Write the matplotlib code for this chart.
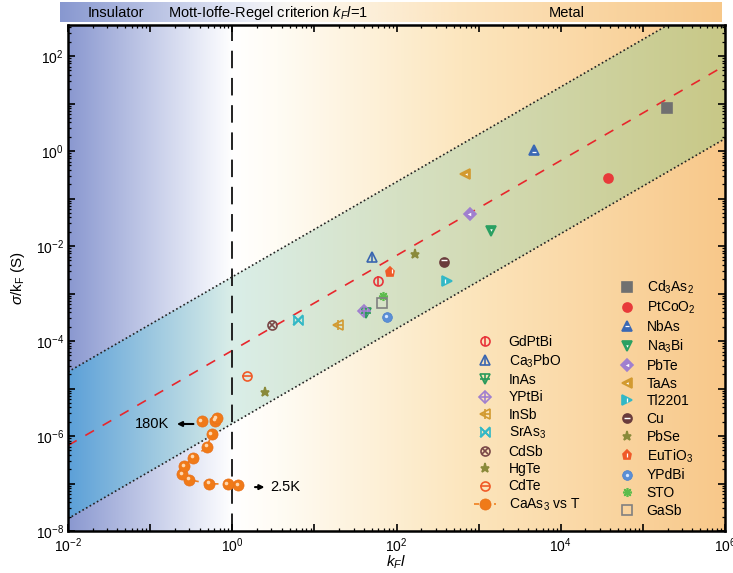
import numpy as np
import matplotlib
matplotlib.use('Agg')
import matplotlib.pyplot as plt
import matplotlib.transforms as mtransforms
from matplotlib.patches import Polygon
from matplotlib.path import Path
from matplotlib.lines import Line2D
from matplotlib.ticker import LogLocator, FuncFormatter, NullFormatter

plt.rcParams['font.family'] = ['Liberation Sans', 'DejaVu Sans']
plt.rcParams['mathtext.fontset'] = 'custom'
plt.rcParams['mathtext.rm'] = 'Liberation Sans'
plt.rcParams['mathtext.it'] = 'Liberation Sans:italic'
plt.rcParams['mathtext.bf'] = 'Liberation Sans:bold'

# ---- data (kF*l, sigma/kF) ----
gdptbi = (60, 1.8e-3)
ca3pbo = (50, 6.0e-3)
inas = (43, 3.9e-4)
yptbi = (40, 4.2e-4)
insb = (19.6, 2.2e-4)
sras3 = (6.25, 2.75e-4)
cdsb = (3.05, 2.2e-4)
hgte = (2.52, 8.3e-6)
cdte = (1.52, 1.83e-5)

cd3as2 = (1.98e5, 7.9)
ptcoo2 = (3.78e4, 0.274)
nbas = (4.7e3, 1.05)
na3bi = (1.4e3, 0.0207)
pbte = (790, 0.047)
taas = (680, 0.33)
tl2201 = (407, 1.83e-3)
cu = (374, 4.7e-3)
pbse = (170, 6.7e-3)
eutio3 = (84, 2.9e-3)
ypdbi = (77, 3.2e-4)
sto = (69, 9.0e-4)
gasb = (66, 6.2e-4)

# CaAs3 vs temperature, from 2.5 K to 180 K
caas3_x = [1.19, 0.877, 0.525, 0.299, 0.244, 0.258, 0.337, 0.495, 0.560, 0.615, 0.650, 0.423]
caas3_y = [9.2e-8, 9.7e-8, 9.9e-8, 1.2e-7, 1.58e-7, 2.33e-7, 3.49e-7, 5.96e-7, 1.09e-6, 2.10e-6, 2.36e-6, 2.07e-6]

# Mott-Ioffe-Regel band: sigma/kF = C * kF*l
c_mid = 10**-4.2
c_up = 10**-2.65
c_lo = 10**-5.74
x_line = np.array([1e-2, 1e6])

fig = plt.figure(figsize=(7.33, 5.73), dpi=100)
ax = fig.add_axes([68/733, 1-531/573, 657/733, 506/573])
ax.set_xscale('log')
ax.set_yscale('log')
ax.set_xlim(1e-2, 1e6)
ax.set_ylim(1e-8, 4.5e2)


def gradient(stops, n=400):
    f = np.linspace(0, 1, n)
    pos = [s[0] for s in stops]
    img = np.zeros((1, n, 3))
    for k in range(3):
        img[0, :, k] = np.interp(f, pos, [s[1][k] / 255 for s in stops])
    return img


bg_stops = [(0, (138, 152, 208)), (0.2, (232, 235, 247)), (0.25, (255, 255, 255)),
            (0.32, (255, 252, 244)), (0.6, (252, 230, 190)), (1.0, (248, 200, 138))]
band_stops = [(0, (92, 160, 216)), (0.25, (218, 238, 232)), (0.5, (214, 225, 196)),
              (1.0, (200, 200, 135))]

ax.imshow(gradient(bg_stops), extent=[0, 1, 0, 1], transform=ax.transAxes,
          aspect='auto', interpolation='bilinear', zorder=0)
band = Polygon([(1e-2, 1e-2*c_up), (1e6, 1e6*c_up), (1e6, 1e6*c_lo), (1e-2, 1e-2*c_lo)],
               closed=True, transform=ax.transData, facecolor='none', edgecolor='none')
ax.add_patch(band)
im = ax.imshow(gradient(band_stops), extent=[0, 1, 0, 1], transform=ax.transAxes,
               aspect='auto', interpolation='bilinear', zorder=0.5)
im.set_clip_path(band)

ax.plot(x_line, x_line*c_up, color='#222222', lw=1.2, ls=(0, (1, 1.5)), zorder=1)
ax.plot(x_line, x_line*c_lo, color='#222222', lw=1.2, ls=(0, (1, 1.5)), zorder=1)
ax.plot(x_line, x_line*c_mid, color='#e8262c', lw=1.2, ls=(0, (6, 6)), zorder=1)
ax.axvline(1, color='#222222', lw=1.4, ls=(0, (9, 5)), zorder=1)

off = mtransforms.offset_copy(ax.transData, fig=fig, x=-1.0, y=1.0, units='points')
ms = 6.5


def pt(p, marker, color, filled=False, extra=None, extra_color=None, extra_ms=None,
       extra_off=None, extra_mew=1.2):
    hs = []
    mfc = color if filled else 'none'
    h, = ax.plot([p[0]], [p[1]], ls='none', marker=marker, ms=ms, mec=color, mfc=mfc,
                 mew=1.2, zorder=3)
    hs.append(h)
    if extra is not None:
        ec = extra_color or color
        tr = ax.transData
        if extra_off is not None:
            tr = mtransforms.offset_copy(ax.transData, fig=fig, x=extra_off[0], y=extra_off[1],
                                         units='points')
        h2, = ax.plot([p[0]], [p[1]], ls='none', marker=extra, ms=extra_ms or ms, mec=ec,
                      mfc=ec, mew=extra_mew, zorder=3.5, transform=tr)
        hs.append(h2)
    return tuple(hs)


bowtie = Path([(-1, -1), (1, 1), (1, -1), (-1, 1), (-1, -1)],
              [Path.MOVETO, Path.LINETO, Path.LINETO, Path.LINETO, Path.CLOSEPOLY])

left_handles = [
    pt(gdptbi, 'o', '#e8343a', extra='|'),
    pt(ca3pbo, '^', '#3a66b0', extra='|'),
    pt(inas, 'v', '#2a9a5c', extra='+'),
    pt(yptbi, 'D', '#a07fcf', extra='+'),
    pt(insb, '<', '#d29a30', extra='+'),
    pt(sras3, bowtie, '#32b8c6', extra='x'),
    pt(cdsb, 'o', '#7a4848', extra='x', extra_ms=4.5),
    pt(hgte, '*', '#8a8a3a', filled=True),
    pt(cdte, 'o', '#f05a28', extra='_'),
]

ax.plot(caas3_x, caas3_y, color='#f08020', lw=1.2, ls=(0, (3, 3)), zorder=2)
ax.plot(caas3_x, caas3_y, ls='none', marker='o', ms=8, mfc='#f07a18', mec='#e8701a',
        mew=0.5, zorder=3)
ax.plot(caas3_x, caas3_y, ls='none', marker='o', ms=2.6, mfc='#ffd8b0', mec='none',
        zorder=3.5, transform=off)
ca_handle = Line2D([], [], color='#f08020', lw=1.2, ls=(0, (3, 3)), marker='o', ms=8,
                   mfc='#f07a18', mec='#e8701a', mew=0.5)
left_handles.append(ca_handle)

right_handles = [
    pt(cd3as2, 's', '#707070', filled=True),
    pt(ptcoo2, 'o', '#e83a3a', filled=True),
    pt(nbas, '^', '#3a68b4', filled=True, extra='_', extra_color='white', extra_ms=3.5,
       extra_off=(0, -1.2), extra_mew=0.9),
    pt(na3bi, 'v', '#2aa062', filled=True, extra='v', extra_color='white', extra_ms=1.8,
       extra_off=(0, 0.8), extra_mew=0),
    pt(pbte, 'D', '#a07fcf', filled=True, extra='<', extra_color='white', extra_ms=2.5,
       extra_off=(-1.0, 0), extra_mew=0),
    pt(taas, '<', '#d29a30', filled=True, extra='<', extra_color='white', extra_ms=1.8,
       extra_off=(1.0, 0), extra_mew=0),
    pt(tl2201, '>', '#32b8c6', filled=True, extra='|', extra_color='white', extra_ms=3,
       extra_off=(-1.0, 0), extra_mew=0.9),
    pt(cu, 'o', '#6a3c3c', filled=True, extra='_', extra_color='white', extra_ms=4.5,
       extra_off=(0, 1.0), extra_mew=1.0),
    pt(pbse, '*', '#8a8a3a', filled=True),
    pt(eutio3, 'p', '#f05a28', filled=True, extra='|', extra_color='white', extra_ms=2.5,
       extra_off=(1.0, 0.3), extra_mew=0.9),
    pt(sto, (8, 2, 0), '#5cbc4c'),
    pt(gasb, 's', '#808080'),
]
yp_main, = ax.plot([ypdbi[0]], [ypdbi[1]], ls='none', marker='o', ms=7, mfc='#5b8fd6',
                   mec='#4a80cc', mew=0.5, zorder=3)
yp_hl, = ax.plot([ypdbi[0]], [ypdbi[1]], ls='none', marker='o', ms=2.4, mfc='#d8e8ff',
                 mec='none', zorder=3.5, transform=off)
right_handles.insert(10, (yp_main, yp_hl))

left_labels = ['GdPtBi', 'Ca$_3$PbO', 'InAs', 'YPtBi', 'InSb', 'SrAs$_3$', 'CdSb', 'HgTe',
               'CdTe', 'CaAs$_3$ vs T']
right_labels = ['Cd$_3$As$_2$', 'PtCoO$_2$', 'NbAs', 'Na$_3$Bi', 'PbTe', 'TaAs', 'Tl2201',
                'Cu', 'PbSe', 'EuTiO$_3$', 'YPdBi', 'STO', 'GaSb']

leg1 = ax.legend(left_handles, left_labels, loc='upper left', frameon=False, fontsize=10,
                 bbox_to_anchor=(474/733, 1-335/573), bbox_transform=fig.transFigure,
                 borderpad=0, borderaxespad=0, handlelength=1.6, handletextpad=0.9,
                 labelspacing=0.24)
ax.add_artist(leg1)
ax.legend(right_handles, right_labels, loc='upper left', frameon=False, fontsize=10,
          bbox_to_anchor=(616/733, 1-279/573), bbox_transform=fig.transFigure,
          borderpad=0, borderaxespad=0, handlelength=1.6, handletextpad=0.6,
          labelspacing=0.265)

# temperature annotations
ax.annotate('', xy=(0.196, 1.79e-6), xytext=(0.364, 1.79e-6),
            arrowprops=dict(arrowstyle='-|>', color='black', lw=1.5, mutation_scale=7))
ax.text(0.171, 1.79e-6, '180K', ha='right', va='center', fontsize=10.5)
ax.annotate('', xy=(2.67, 8.4e-8), xytext=(1.75, 8.4e-8),
            arrowprops=dict(arrowstyle='-|>', color='black', lw=1.5, mutation_scale=7))
ax.text(2.9, 8.4e-8, '2.5K', ha='left', va='center', fontsize=10.5)

# axes styling
fmt = FuncFormatter(lambda v, p: '$10^{%d}$' % int(round(np.log10(v)))
                    if int(round(np.log10(v))) % 2 == 0 else '')
for axis in (ax.xaxis, ax.yaxis):
    axis.set_major_locator(LogLocator(base=10, numticks=30))
    axis.set_minor_locator(LogLocator(base=10, subs=np.arange(2, 10), numticks=200))
    axis.set_major_formatter(fmt)
    axis.set_minor_formatter(NullFormatter())
ax.tick_params(which='both', direction='in', top=True, right=True, labelsize=10)
ax.tick_params(which='major', length=5, width=1.2)
ax.tick_params(which='minor', length=2.5, width=0.9)
ax.tick_params(axis='x', pad=4)
ax.tick_params(axis='y', pad=3)
for s in ax.spines.values():
    s.set_linewidth(1.8)
ax.set_xlabel('$k_Fl$', fontsize=11, labelpad=-1)
ax.set_ylabel('$\\sigma$/k$_\\mathrm{F}$ (S)', fontsize=11, labelpad=6)

# top strip
top = fig.add_axes([60/733, 1-22/573, 662/733, 20/573])
strip_stops = [(0, (136, 152, 208)), (0.28, (232, 235, 246)), (0.36, (252, 248, 240)),
               (0.6, (252, 228, 190)), (1.0, (247, 200, 138))]
top.imshow(gradient(strip_stops), extent=[0, 1, 0, 1], aspect='auto', interpolation='bilinear')
top.set_xlim(0, 1)
top.set_ylim(0, 1)
top.axis('off')
top.text(28/662, 0.45, 'Insulator', va='center', fontsize=10.5)
top.text(108/662, 0.45, 'Mott-Ioffe-Regel criterion $k_Fl$=1', va='center', fontsize=10.5)
top.text(489/662, 0.45, 'Metal', va='center', fontsize=10.5)

fig.savefig('out.png', dpi=100)
